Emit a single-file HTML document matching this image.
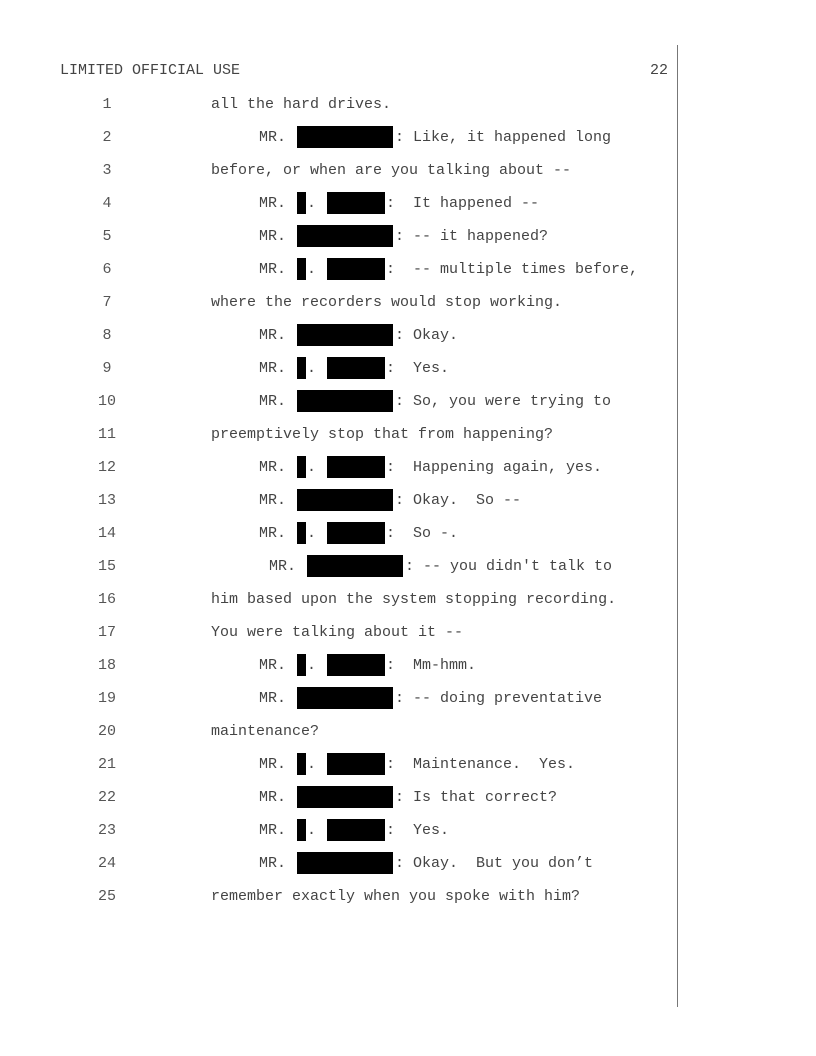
<!DOCTYPE html>
<html><head><meta charset="utf-8"><style>
body{margin:0;background:#fff;}
#p{position:relative;width:816px;height:1056px;overflow:hidden;font-family:"Liberation Mono",monospace;font-size:15px;color:#444;}
.t{position:absolute;line-height:18px;white-space:pre;}
.n{position:absolute;width:40px;text-align:center;left:87px;line-height:18px;color:#555;}
.b{position:absolute;background:#000;height:22px;}
.v{position:absolute;left:677px;top:45px;width:1px;height:962px;background:#777;}
</style></head><body><div id="p">
<div class="v"></div>
<div class="t" style="left:60px;top:62px">LIMITED OFFICIAL USE</div>
<div class="t" style="left:650px;top:62px">22</div>
<script>
var L=[
["p","all the hard drives."],
["L","Like, it happened long"],
["p","before, or when are you talking about --"],
["S","It happened --"],
["L","-- it happened?"],
["S","-- multiple times before,"],
["p","where the recorders would stop working."],
["L","Okay."],
["S","Yes."],
["L","So, you were trying to"],
["p","preemptively stop that from happening?"],
["S","Happening again, yes."],
["L","Okay.  So --"],
["S","So -."],
["X","-- you didn't talk to"],
["p","him based upon the system stopping recording."],
["p","You were talking about it --"],
["S","Mm-hmm."],
["L","-- doing preventative"],
["p","maintenance?"],
["S","Maintenance.  Yes."],
["L","Is that correct?"],
["S","Yes."],
["L","Okay.  But you don\u2019t"],
["p","remember exactly when you spoke with him?"]];
var h="";
L.forEach(function(l,i){var c=105+33*i,t=c-9,bt=c-12;
h+='<div class="n" style="top:'+t+'px">'+(i+1)+'</div>';
var k=l[0],s=l[1];
if(k=="p"){h+='<div class="t" style="left:211px;top:'+t+'px">'+s+'</div>';}
else if(k=="L"||k=="X"){var o=k=="X"?10:0;
h+='<div class="t" style="left:'+(259+o)+'px;top:'+t+'px">MR.</div>';
h+='<div class="b" style="left:'+(297+o)+'px;top:'+bt+'px;width:96px"></div>';
h+='<div class="t" style="left:'+(395+o)+'px;top:'+t+'px">:</div>';
h+='<div class="t" style="left:'+(413+o)+'px;top:'+t+'px">'+s+'</div>';}
else{h+='<div class="t" style="left:259px;top:'+t+'px">MR.</div>';
h+='<div class="b" style="left:297px;top:'+bt+'px;width:9px"></div>';
h+='<div class="t" style="left:307px;top:'+t+'px">.</div>';
h+='<div class="b" style="left:327px;top:'+bt+'px;width:58px"></div>';
h+='<div class="t" style="left:386px;top:'+t+'px">:</div>';
h+='<div class="t" style="left:413px;top:'+t+'px">'+s+'</div>';}
});
document.getElementById("p").insertAdjacentHTML("beforeend",h);
</script>
</div></body></html>
